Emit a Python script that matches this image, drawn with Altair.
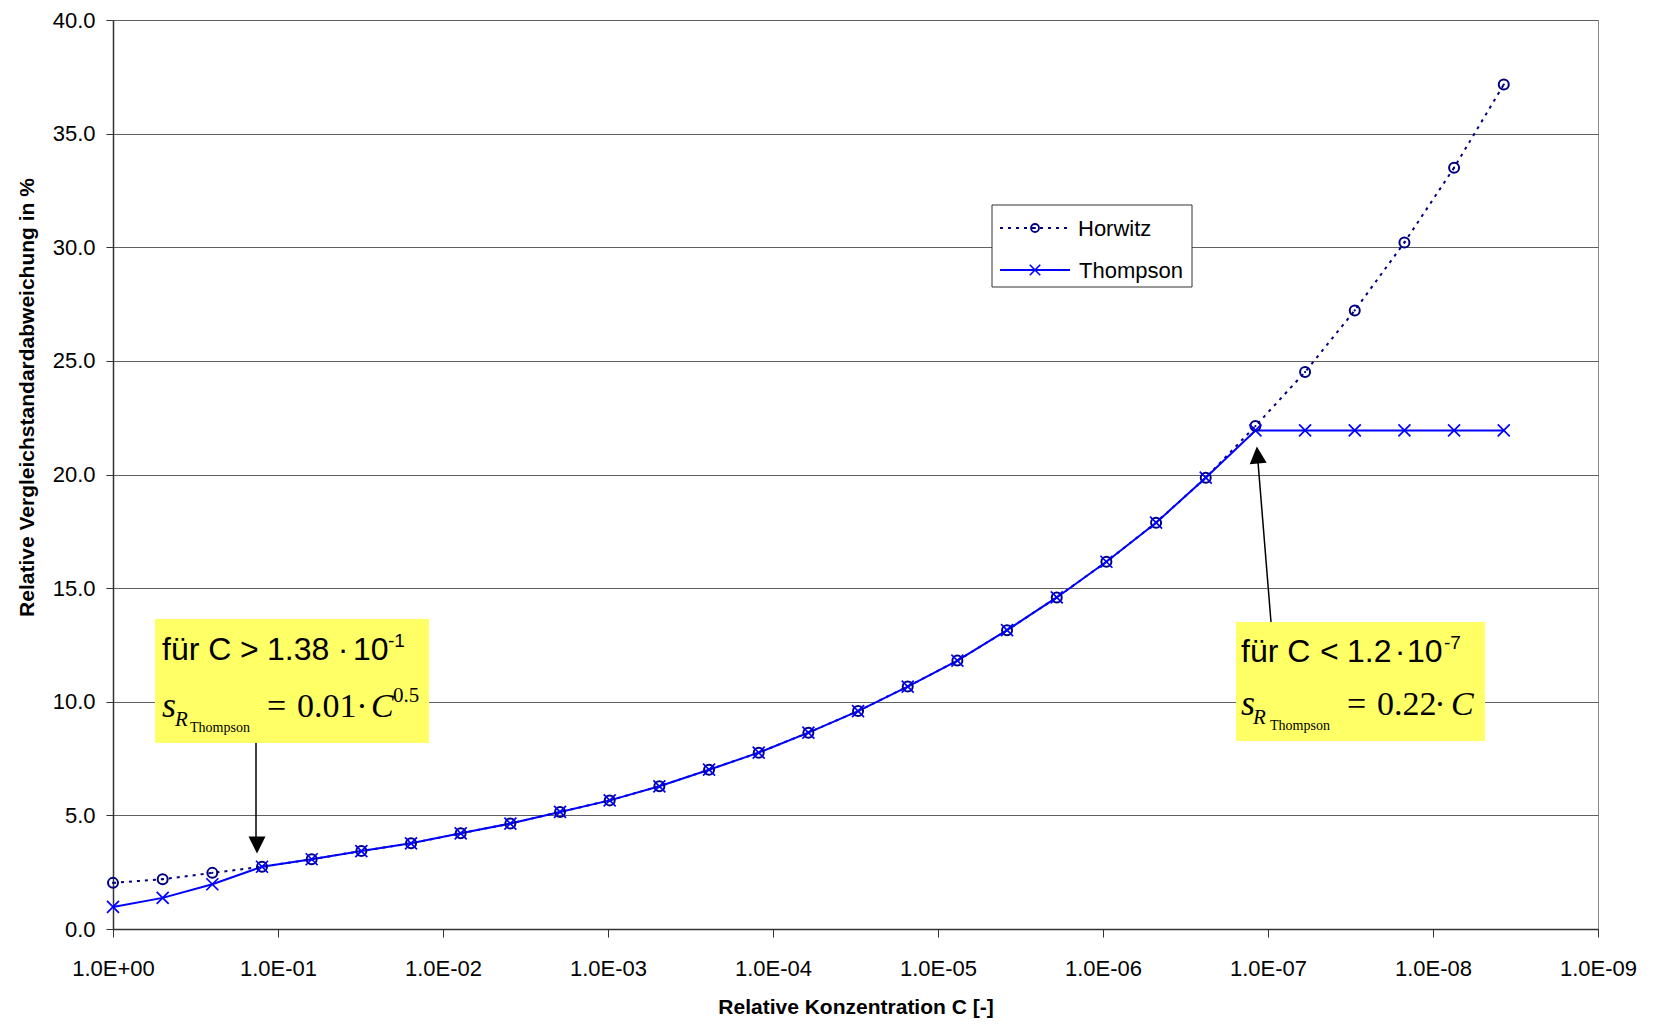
import altair as alt
import pandas as pd

# ---------------- data ----------------
conc = [1.0, 5.0e-1, 2.5e-1, 1.25e-1, 6.25e-2, 3.125e-2, 1.5625e-2, 7.8125e-3,
        3.906e-3, 1.953e-3, 9.766e-4, 4.883e-4, 2.441e-4, 1.221e-4, 6.104e-5,
        3.052e-5, 1.526e-5, 7.629e-6, 3.815e-6, 1.907e-6, 9.537e-7, 4.768e-7,
        2.384e-7, 1.192e-7, 5.960e-8, 2.980e-8, 1.490e-8, 7.451e-9, 3.725e-9]

horwitz = [2.03, 2.19, 2.47, 2.74, 3.07, 3.43, 3.77, 4.21, 4.64, 5.15,
           5.66, 6.28, 7.01, 7.76, 8.64, 9.59, 10.67, 11.81, 13.15, 14.59,
           16.16, 17.88, 19.86, 22.13, 24.51, 27.22, 30.21, 33.50, 37.16]

thompson = [0.97, 1.37, 1.97, 2.74, 3.07, 3.43, 3.77, 4.21, 4.64, 5.15,
            5.66, 6.28, 7.01, 7.76, 8.64, 9.59, 10.67, 11.81, 13.15, 14.59,
            16.16, 17.88, 19.86, 21.94, 21.94, 21.94, 21.94, 21.94, 21.94]

x_ticks = [1e0, 1e-1, 1e-2, 1e-3, 1e-4, 1e-5, 1e-6, 1e-7, 1e-8, 1e-9]
y_ticks = [0, 5, 10, 15, 20, 25, 30, 35, 40]

series_names = ["Horwitz", "Thompson"]
x_title = "Relative Konzentration C [-]"
y_title = "Relative Vergleichstandardabweichung in %"

df_h = pd.DataFrame({"C": conc, "value": horwitz})
df_t = pd.DataFrame({"C": conc, "value": thompson})

NAVY = "#000080"
BLUE = "#0000FF"
SANS = "Liberation Sans"
SERIF = "Liberation Serif"

label_expr = ("'1.0E' + (datum.value >= 1 ? '+' : '-') + "
              "(abs(round(log(datum.value)/LN10)) < 10 ? '0' : '') + "
              "abs(round(log(datum.value)/LN10))")

x_enc = alt.X(
    "C:Q",
    scale=alt.Scale(type="log", domain=[1e-9, 1], reverse=True, nice=False),
    axis=alt.Axis(values=x_ticks, labelExpr=label_expr, title=x_title, grid=False,
                  tickSize=8, tickColor="#333333", domainColor="#333333", domainWidth=1.5,
                  labelPadding=21, labelFont=SANS, labelFontSize=22, labelColor="black",
                  labelFlush=False, labelOverlap=False,
                  titleFont=SANS, titleFontSize=21, titleFontWeight="bold", titleColor="black",
                  titleY=84, titleBaseline="alphabetic"),
)
y_enc = alt.Y(
    "value:Q",
    scale=alt.Scale(domain=[0, 40], nice=False),
    axis=alt.Axis(values=y_ticks, format=".1f", title=y_title, grid=True,
                  gridColor="#606060", gridWidth=1,
                  tickSize=7, tickColor="#333333", domainColor="#333333", domainWidth=1.5,
                  labelPadding=11, labelFont=SANS, labelFontSize=22, labelColor="black",
                  labelFlush=False, labelOverlap=False,
                  titleFont=SANS, titleFontSize=21, titleFontWeight="bold", titleColor="black",
                  titleX=-86, titleY=377, titleAngle=270, titleAlign="center",
                  titleBaseline="middle"),
)

XSHAPE = "M-1,-1L1,1M-1,1L1,-1"

h_line = alt.Chart(df_h).mark_line(color=NAVY, strokeWidth=2, strokeDash=[3, 5]).encode(x=x_enc, y=y_enc)
t_line = alt.Chart(df_t).mark_line(color=BLUE, strokeWidth=2).encode(x=x_enc, y=y_enc)
h_pts = alt.Chart(df_h).mark_point(shape="circle", size=100, filled=False, color=NAVY,
                                   strokeWidth=2, opacity=1).encode(x=x_enc, y=y_enc)
h_dot = alt.Chart(df_h).mark_point(shape="circle", size=5, filled=True, color=NAVY,
                                   opacity=1).encode(x=x_enc, y=y_enc)
t_pts = alt.Chart(df_t).mark_point(shape=XSHAPE, size=144, filled=False, color=BLUE,
                                   strokeWidth=1.7, opacity=1).encode(x=x_enc, y=y_enc)

ONE = alt.Data(values=[{"a": 1}])

# plot-area offset correction (plot top moved down by 2px)
OY = -2


def txt(x, y, s, size, font=SANS, style="normal", align="left"):
    return alt.Chart(ONE).mark_text(text=s, font=font, fontSize=size, fontStyle=style,
                                    align=align, baseline="alphabetic", color="black").encode(
        x=alt.value(x), y=alt.value(y + OY))


def rect(x1, y1, x2, y2, fill, stroke=None):
    kw = dict(fill=fill)
    if stroke:
        kw.update(stroke=stroke, strokeWidth=1)
    return alt.Chart(ONE).mark_rect(**kw).encode(
        x=alt.value(x1), x2=alt.value(x2), y=alt.value(y1 + OY), y2=alt.value(y2 + OY))


def seg(x1, y1, x2, y2, color="black", width=1.5, dash=None):
    kw = dict(color=color, strokeWidth=width)
    if dash:
        kw.update(strokeDash=dash)
    return alt.Chart(ONE).mark_rule(**kw).encode(
        x=alt.value(x1), x2=alt.value(x2), y=alt.value(y1 + OY), y2=alt.value(y2 + OY))


def sym(x, y, shape, size, color, filled, angle=0, sw=1.5):
    kw = dict(shape=shape, size=size, color=color, filled=filled, opacity=1, strokeWidth=sw)
    if angle:
        kw.update(angle=angle)
    return alt.Chart(ONE).mark_point(**kw).encode(x=alt.value(x), y=alt.value(y + OY))


TRI_UP = "M0,-1L1,1L-1,1Z"
TRI_DOWN = "M-1,-1L1,-1L0,1Z"

YELLOW = "#FFFF66"

layers = [h_line, t_line, h_pts, h_dot, t_pts]

# legend
layers += [
    rect(879, 187, 1079, 269, "white", "#333333"),
    seg(887, 210, 957, 210, NAVY, 2, [3, 5]),
    sym(922, 210, "circle", 64, NAVY, False, sw=1.8),
    sym(922, 210, "circle", 4, NAVY, True),
    txt(965, 218, series_names[0], 22),
    seg(887, 252, 957, 252, BLUE, 2),
    sym(922, 252, XSHAPE, 110, BLUE, False, sw=1.6),
    txt(966, 260, series_names[1], 22),
]

# left annotation
layers += [
    rect(42, 601, 316, 725, YELLOW),
    txt(49, 642, "für C", 32),
    txt(127, 642, ">", 32),
    txt(154, 642, "1.38", 32),
    txt(230, 642, "·", 32, align="center"),
    txt(240, 642, "10", 32),
    txt(275, 629, "-1", 19),
    txt(49, 699, "s", 36, SERIF, "italic"),
    txt(62, 708, "R", 21, SERIF, "italic"),
    txt(77, 714, "Thompson", 14, SERIF),
    txt(154, 699, "=", 34, SERIF),
    txt(184, 699, "0.01", 34, SERIF),
    txt(249, 699, "·", 34, SERIF, align="center"),
    txt(258, 699, "C", 34, SERIF, "italic"),
    txt(280, 684, "0.5", 21, SERIF),
    seg(143, 725, 143, 826, "black", 1.5),
    sym(144, 827, TRI_DOWN, 289, "black", True, sw=0),
]

# right annotation
layers += [
    rect(1123, 604, 1372, 723, YELLOW),
    txt(1128, 644, "für C", 32),
    txt(1207, 644, "<", 32),
    txt(1234, 644, "1.2", 32),
    txt(1287, 644, "·", 32, align="center"),
    txt(1294, 644, "10", 32),
    txt(1331, 631, "-7", 19),
    txt(1128, 697, "s", 36, SERIF, "italic"),
    txt(1140, 706, "R", 21, SERIF, "italic"),
    txt(1157, 712, "Thompson", 14, SERIF),
    txt(1234, 697, "=", 34, SERIF),
    txt(1264, 697, "0.22", 34, SERIF),
    txt(1327, 697, "·", 34, SERIF, align="center"),
    txt(1338, 697, "C", 34, SERIF, "italic"),
    seg(1158, 604, 1145, 444, "black", 1.5),
    sym(1144.5, 437, TRI_UP, 289, "black", True, angle=355.5, sw=0),
]

chart = alt.layer(*layers).properties(
    width=1485,
    height=909,
    autosize=alt.AutoSizeParams(type="none"),
    padding={"left": 105, "top": 12, "right": 40, "bottom": 89},
    background="white",
).configure_view(stroke="#888888", strokeWidth=1)

chart.save("out.html", embed_options={"renderer": "svg", "actions": False})
